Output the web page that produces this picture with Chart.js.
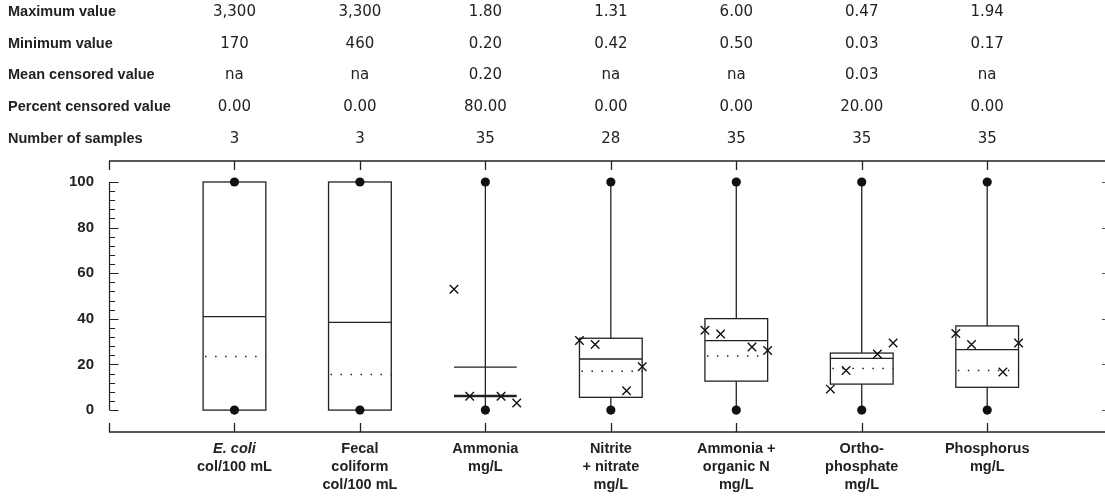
<!DOCTYPE html>
<html>
<head>
<meta charset="utf-8">
<script src="https://cdn.jsdelivr.net/npm/chart.js@4.4.0/dist/chart.umd.min.js"></script>
<style>
  html, body { margin: 0; padding: 0; background: #fff; }
  #wrap { position: relative; width: 1105px; height: 500px; }
</style>
</head>
<body>
<div id="wrap"><canvas id="chart" width="1105" height="500"></canvas></div>
<script>
// Categories (x-axis labels, one line per entry)
const categoryLines = [
  ["E. coli", "col/100 mL"],
  ["Fecal", "coliform", "col/100 mL"],
  ["Ammonia", "mg/L"],
  ["Nitrite", "+ nitrate", "mg/L"],
  ["Ammonia +", "organic N", "mg/L"],
  ["Ortho-", "phosphate", "mg/L"],
  ["Phosphorus", "mg/L"],
];

// Summary table above the plot
const statLabels = [
  "Maximum value",
  "Minimum value",
  "Mean censored value",
  "Percent censored value",
  "Number of samples",
];
const maxValues = ["3,300", "3,300", "1.80", "1.31", "6.00", "0.47", "1.94"];
const minValues = ["170", "460", "0.20", "0.42", "0.50", "0.03", "0.17"];
const meanCensored = ["na", "na", "0.20", "na", "na", "0.03", "na"];
const pctCensored = ["0.00", "0.00", "80.00", "0.00", "0.00", "20.00", "0.00"];
const sampleCounts = ["3", "3", "35", "28", "35", "35", "35"];
const tableRows = [maxValues, minValues, meanCensored, pctCensored, sampleCounts];

// Box plot statistics (percent of range)
const yTicks = [0, 20, 40, 60, 80, 100];
const whiskerLow = [0, 0, 0, 0, 0, 0, 0];
const whiskerHigh = [100, 100, 100, 100, 100, 100, 100];
const q1 = [0, 0, 6.2, 5.6, 12.7, 11.4, 10.0];
const q3 = [100, 100, 18.8, 31.5, 40.1, 25.0, 36.9];
const medians = [41.0, 38.5, 6.2, 22.4, 30.5, 22.7, 26.5];
const means = [23.5, 15.6, null, 17.0, 23.7, 18.2, 17.4];

// Individual sample marks (x), four slots per category, left to right
const crossValues = [
  [],
  [],
  [53.0, 6.1, 6.1, 3.1],
  [30.5, 28.8, 8.5, 19.0],
  [35.0, 33.4, 27.7, 26.1],
  [9.2, 17.4, 24.6, 29.4],
  [33.6, 28.8, 16.7, 29.4],
];

const INK = "#222";
const BOX_HALF = 0.25;
const SLOT_OFFSETS = [-0.25, -0.125, 0.125, 0.25];
const LABEL_FONT = "bold 14.5px 'Liberation Sans', Arial, sans-serif";
const VALUE_FONT = "15px 'DejaVu Sans', sans-serif";

// Box is drawn without sides when the median sits on the lower quartile
const isOpenBox = (i) => medians[i] === q1[i];

// Whisker segments outside the box
const whiskerData = [];
categoryLines.forEach((_, i) => {
  const x = i + 1;
  if (isOpenBox(i)) {
    whiskerData.push({ x, y: whiskerLow[i] }, { x, y: whiskerHigh[i] }, { x, y: null });
  } else {
    whiskerData.push({ x, y: whiskerLow[i] }, { x, y: q1[i] }, { x, y: null });
    whiskerData.push({ x, y: q3[i] }, { x, y: whiskerHigh[i] }, { x, y: null });
  }
});

const dotData = [];
categoryLines.forEach((_, i) => {
  dotData.push({ x: i + 1, y: whiskerLow[i] }, { x: i + 1, y: whiskerHigh[i] });
});

const crossData = [];
crossValues.forEach((vals, i) => {
  vals.forEach((v, k) => crossData.push({ x: i + 1 + SLOT_OFFSETS[k], y: v }));
});

const boxPlugin = {
  id: "boxes",
  beforeDatasetsDraw(chart) {
    const { ctx, scales } = chart;
    const xs = scales.x, ys = scales.y;
    ctx.save();
    ctx.strokeStyle = INK;
    categoryLines.forEach((_, i) => {
      const left = xs.getPixelForValue(i + 1 - BOX_HALF);
      const right = xs.getPixelForValue(i + 1 + BOX_HALF);
      const top = ys.getPixelForValue(q3[i]);
      const bottom = ys.getPixelForValue(q1[i]);
      const mid = ys.getPixelForValue(medians[i]);
      ctx.setLineDash([]);
      ctx.lineWidth = 1.3;
      if (isOpenBox(i)) {
        ctx.beginPath();
        ctx.moveTo(left, top);
        ctx.lineTo(right, top);
        ctx.stroke();
        ctx.lineWidth = 2.6;
        ctx.beginPath();
        ctx.moveTo(left, mid);
        ctx.lineTo(right, mid);
        ctx.stroke();
      } else {
        ctx.fillStyle = "#fff";
        ctx.fillRect(left, top, right - left, bottom - top);
        ctx.strokeRect(left, top, right - left, bottom - top);
        ctx.beginPath();
        ctx.moveTo(left, mid);
        ctx.lineTo(right, mid);
        ctx.stroke();
      }
      if (means[i] !== null) {
        const ym = ys.getPixelForValue(means[i]);
        ctx.lineWidth = 1.5;
        ctx.setLineDash([1.5, 8.5]);
        ctx.beginPath();
        ctx.moveTo(left + 2, ym);
        ctx.lineTo(right, ym);
        ctx.stroke();
      }
    });
    ctx.restore();
  },
};

const framePlugin = {
  id: "frame",
  afterDraw(chart) {
    const { ctx, chartArea, scales } = chart;
    const xs = scales.x, ys = scales.y;
    const { left, top, bottom } = chartArea;
    const right = chart.width;
    ctx.save();
    ctx.strokeStyle = INK;
    ctx.lineWidth = 1.3;
    ctx.setLineDash([]);

    // top and bottom rules with category ticks
    ctx.beginPath();
    ctx.moveTo(left, top);
    ctx.lineTo(right, top);
    ctx.moveTo(left, bottom);
    ctx.lineTo(right, bottom);
    for (let k = 0; k <= categoryLines.length; k++) {
      const px = Math.round(xs.getPixelForValue(k)) + 0.5;
      ctx.moveTo(px, top);
      ctx.lineTo(px, top + 9);
      ctx.moveTo(px, bottom);
      ctx.lineTo(px, bottom - 9);
    }
    ctx.stroke();

    // left value axis with major and minor ticks
    const ax = Math.round(left) + 0.5;
    ctx.lineWidth = 1.2;
    ctx.beginPath();
    ctx.moveTo(ax, ys.getPixelForValue(0));
    ctx.lineTo(ax, ys.getPixelForValue(100));
    for (let v = 0; v <= 100; v += 4) {
      const py = Math.round(ys.getPixelForValue(v)) + 0.5;
      const len = v % 20 === 0 ? 9 : 5.5;
      ctx.moveTo(ax, py);
      ctx.lineTo(ax + len, py);
    }
    ctx.stroke();

    // small ticks on the right edge
    ctx.strokeStyle = "#555";
    ctx.lineWidth = 1;
    ctx.beginPath();
    yTicks.forEach((v) => {
      const py = Math.round(ys.getPixelForValue(v)) + 0.5;
      ctx.moveTo(right - 3, py);
      ctx.lineTo(right, py);
    });
    ctx.stroke();

    // summary table
    ctx.fillStyle = INK;
    ctx.textBaseline = "middle";
    const rowY = [12, 44, 75, 107, 139];
    statLabels.forEach((label, r) => {
      ctx.font = LABEL_FONT;
      ctx.textAlign = "left";
      ctx.fillText(label, 8, rowY[r]);
      ctx.font = VALUE_FONT;
      ctx.textAlign = "center";
      tableRows[r].forEach((val, i) => {
        ctx.fillText(val, xs.getPixelForValue(i + 1), rowY[r]);
      });
    });

    // category labels
    ctx.textAlign = "center";
    categoryLines.forEach((lines, i) => {
      const px = xs.getPixelForValue(i + 1);
      lines.forEach((line, j) => {
        ctx.font = i === 0 && j === 0
          ? "italic " + LABEL_FONT
          : LABEL_FONT;
        ctx.fillText(line, px, 449 + j * 18);
      });
    });
    ctx.restore();
  },
};

new Chart(document.getElementById("chart"), {
  data: {
    datasets: [
      {
        type: "line",
        data: whiskerData,
        borderColor: INK,
        borderWidth: 1.3,
        pointRadius: 0,
        spanGaps: false,
        order: 3,
      },
      {
        type: "scatter",
        data: dotData,
        pointStyle: "circle",
        pointRadius: 4.6,
        backgroundColor: "#111",
        borderColor: "#111",
        borderWidth: 0,
        order: 2,
      },
      {
        type: "scatter",
        data: crossData,
        pointStyle: "crossRot",
        pointRadius: 6,
        borderColor: "#111",
        borderWidth: 1.4,
        order: 1,
      },
    ],
  },
  options: {
    responsive: false,
    animation: false,
    devicePixelRatio: 1,
    layout: { padding: { top: 161, right: 0, bottom: 68, left: 0 } },
    plugins: { legend: { display: false }, tooltip: { enabled: false } },
    scales: {
      x: { type: "linear", display: false, min: 0, max: 7.88 },
      y: {
        type: "linear",
        min: -9.6,
        max: 109.2,
        afterBuildTicks: (s) => { s.ticks = yTicks.map((v) => ({ value: v })); },
        afterFit: (s) => { s.width = 109; },
        grid: { display: false, drawTicks: false },
        border: { display: false },
        ticks: {
          padding: 15,
          color: INK,
          font: { family: "'Liberation Sans', Arial, sans-serif", size: 15, weight: "bold" },
        },
      },
    },
  },
  plugins: [boxPlugin, framePlugin],
});
</script>
</body>
</html>
